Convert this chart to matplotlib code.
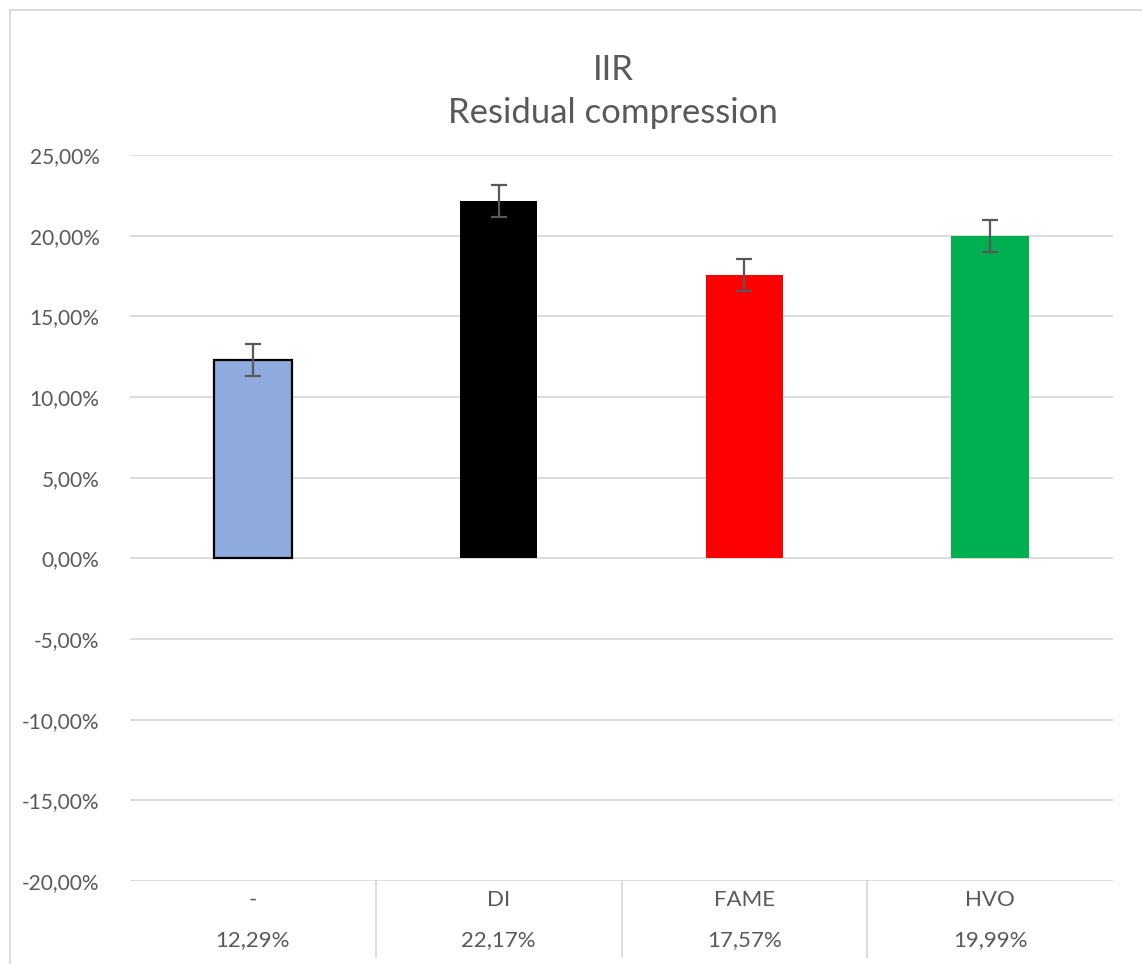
import matplotlib
matplotlib.use("Agg")
import matplotlib.pyplot as plt
import matplotlib.transforms as mtransforms
from matplotlib.lines import Line2D
from matplotlib.ticker import FuncFormatter, MultipleLocator

categories = ["-", "DI", "FAME", "HVO"]
values = [12.29, 22.17, 17.57, 19.99]
errors = [1.0, 1.0, 1.0, 1.0]
colors = ["#8FAADC", "#000000", "#FF0000", "#00B050"]
value_labels = ["12,29%", "22,17%", "17,57%", "19,99%"]
title_lines = ["IIR", "Residual compression"]

plt.rcParams["font.family"] = ["Lato", "DejaVu Sans"]
TEXT = "#595959"
GRID = "#D9D9D9"

W, H = 1142, 964
fig = plt.figure(figsize=(W / 100, H / 100), dpi=100)

def fx(px):
    return px / W

def fy(py):
    return 1 - py / H

ax = fig.add_axes([fx(130), fy(881), fx(1113) - fx(130), fy(155) - fy(881)])

x = list(range(len(categories)))
ax.bar(x, values, width=0.315, color=colors, zorder=3)
ax.bar(x[0], values[0], width=0.315, color="none", edgecolor="black",
       linewidth=1.6, zorder=4)
ax.errorbar(x, values, yerr=errors, fmt="none", ecolor="#595959",
            elinewidth=1.6, capsize=6, capthick=1.6, zorder=5)

ax.set_xlim(-0.5, len(categories) - 0.5)
ax.set_ylim(-20, 25)
ax.yaxis.set_major_locator(MultipleLocator(5))
ax.yaxis.set_major_formatter(FuncFormatter(lambda v, _: f"{v:.2f}%".replace(".", ",")))
ax.grid(axis="y", color=GRID, linewidth=1.3, zorder=0)
ax.set_axisbelow(True)
for s in ax.spines.values():
    s.set_visible(False)
ax.tick_params(axis="y", length=0, pad=22, labelsize=15, labelcolor=TEXT)
ax.set_xticks([])

# data table under the axis: category names and values
blend = mtransforms.blended_transform_factory(ax.transData, fig.transFigure)
for i, (c, v) in enumerate(zip(categories, value_labels)):
    ax.text(i, fy(900), c, transform=blend, ha="center", va="center",
            fontsize=16, color=TEXT)
    ax.text(i, fy(940), v, transform=blend, ha="center", va="center",
            fontsize=16, color=TEXT)

for b in [0.5, 1.5, 2.5]:
    ax.add_line(Line2D([b, b], [fy(881), fy(957)], transform=blend, color=GRID,
                       linewidth=1.3, clip_on=False))

# chart frame
fig.add_artist(Line2D([fx(10), fx(10)], [fy(10), 0], color="#D9D9D9", linewidth=1.3))
fig.add_artist(Line2D([fx(10), 1], [fy(10), fy(10)], color="#D9D9D9", linewidth=1.3))

fig.text(fx(613), fy(70), title_lines[0], ha="center", va="center",
         fontsize=25, color=TEXT)
fig.text(fx(613), fy(113), title_lines[1], ha="center", va="center",
         fontsize=25, color=TEXT)

fig.savefig("out.png", dpi=100, facecolor="white")
